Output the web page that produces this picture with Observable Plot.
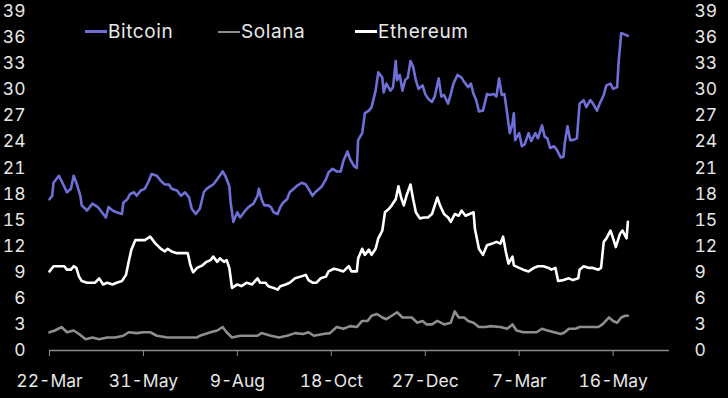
<!DOCTYPE html>
<html>
<head>
<meta charset="utf-8">
<script src="https://cdn.jsdelivr.net/npm/d3@7"></script>
<script src="https://cdn.jsdelivr.net/npm/@observablehq/plot@0.6"></script>
<style>
  html, body { margin: 0; padding: 0; background: #000; }
  #wrap { position: relative; width: 728px; height: 398px; overflow: hidden; font-family: Inter, "DejaVu Sans", sans-serif; }
  .leg { position: absolute; top: 20px; display: flex; align-items: center; color: #e8e8e8; font-size: 19px; letter-spacing: 0.6px; }
  .leg span.sw { display: inline-block; width: 22px; height: 3px; margin-right: 1px; }
</style>
</head>
<body>
<div id="wrap"></div>
<script>
// Series names & colors
const seriesNames = ["Bitcoin", "Solana", "Ethereum"];
const seriesColors = ["#6f6fd8", "#8e8e8e", "#ffffff"];

// X-axis ticks
const tickDates = ["2024-03-22", "2024-05-31", "2024-08-09", "2024-10-18", "2024-12-27", "2025-03-07", "2025-05-16"];
const tickLabels = ["22-Mar", "31-May", "9-Aug", "18-Oct", "27-Dec", "7-Mar", "16-May"];
const yTicks = [0, 3, 6, 9, 12, 15, 18, 21, 24, 27, 30, 33, 36, 39];
const startDate = "2024-03-22";
const endDate = "2025-06-27";

// Bitcoin: days since 22-Mar-2024, values
const btcDays = [0,2,3,7,9,13,16,18,20,23,24,28,32,36,39,42,44,47,50,54,55,58,60,63,65,68,71,74,76,80,83,86,89,91,95,98,101,104,106,109,112,115,117,120,122,125,129,131,134,135,137,140,142,145,147,150,152,155,156,158,160,163,165,167,170,172,174,177,179,182,184,188,191,193,196,198,201,203,206,208,211,214,217,219,222,224,227,229,230,233,235,238,240,243,245,248,249,251,254,256,258,259,261,263,265,267,269,271,273,275,278,280,282,285,287,290,292,294,297,299,301,304,307,309,312,314,316,318,320,323,326,328,331,333,335,337,339,341,343,345,346,347,350,352,354,357,359,362,364,367,369,371,373,376,378,381,383,384,386,388,390,393,395,398,400,403,405,408,410,413,415,418,420,423,424,426,428,431];
const btcVals = [17.4,17.8,19.3,20.1,19.5,18.2,18.6,20.1,19.3,17.8,16.7,16.1,16.9,16.5,15.9,15.3,16.5,16.1,15.9,15.7,17.0,17.4,18.0,18.2,17.8,18.4,18.6,19.5,20.3,20.1,19.5,19.1,19.1,18.6,18.4,17.8,18.2,17.6,16.3,15.7,16.3,18.2,18.6,18.9,19.1,19.7,20.6,20.1,18.9,17.0,14.8,15.9,15.3,15.9,16.3,16.7,16.9,17.8,18.6,17.4,16.7,16.7,16.5,15.9,15.7,16.5,17.0,17.4,18.2,18.6,18.9,19.3,19.1,18.6,17.8,18.2,18.6,18.9,19.7,20.5,20.9,20.6,20.6,21.8,22.9,22.0,21.2,21.0,24.2,25.0,27.3,27.6,28.0,29.9,32.0,31.4,29.7,30.7,29.9,30.3,33.3,31.1,31.7,29.9,31.1,31.4,33.3,32.6,31.1,30.1,30.5,29.5,29.0,28.6,29.2,31.3,29.2,29.4,28.4,29.5,30.7,31.7,31.4,30.9,30.3,30.7,29.5,28.8,27.5,27.6,29.5,29.4,29.5,29.2,31.3,29.4,29.5,27.3,25.0,26.1,27.3,24.2,25.0,23.5,23.7,25.0,24.1,25.0,24.4,25.9,24.6,24.4,23.3,23.5,23.1,22.2,22.3,23.9,25.8,24.2,24.2,24.4,28.4,28.8,28.0,28.8,28.4,27.6,28.4,29.4,30.5,30.7,30.1,30.3,33.0,36.5,36.4,36.2];

// Solana
const solDays = [0,4,9,13,18,22,27,32,37,43,49,55,59,65,70,75,80,88,95,103,110,112,120,125,129,132,136,142,148,155,158,165,171,177,183,189,193,197,204,209,214,219,224,229,233,237,240,244,248,251,255,259,263,266,270,274,278,281,285,289,294,299,302,305,309,312,316,320,325,328,336,341,345,348,353,358,363,367,371,376,381,384,387,392,395,403,409,412,417,420,423,426,429,431];
const solVals = [2.1,2.3,2.7,2.1,2.3,1.9,1.3,1.5,1.3,1.5,1.5,1.7,2.1,2.0,2.1,2.1,1.7,1.5,1.5,1.5,1.5,1.7,2.1,2.3,2.7,2.1,1.5,1.7,1.7,1.7,2.0,1.7,1.5,1.7,2.0,1.9,2.1,1.7,1.9,2.0,2.7,2.5,2.8,2.7,3.4,3.4,4.0,4.2,3.8,3.6,4.0,4.4,3.8,3.8,3.8,3.2,3.4,3.0,3.0,3.4,3.0,3.2,4.5,3.8,3.8,3.4,3.2,2.7,2.7,2.8,2.7,2.5,3.0,2.3,2.1,2.1,2.1,2.5,2.3,2.1,1.9,2.1,2.5,2.5,2.7,2.7,2.7,3.0,3.8,3.4,3.2,3.8,4.0,4.0];

// Ethereum
const ethDays = [0,3,7,11,13,16,18,20,22,24,28,32,34,37,40,43,47,50,54,57,59,61,64,68,71,75,79,83,86,88,91,95,99,103,105,107,110,114,117,120,122,125,127,130,132,134,136,140,143,147,151,155,157,161,163,167,170,172,176,179,183,187,191,193,196,199,202,206,208,212,215,219,223,225,229,230,233,235,238,240,243,245,248,250,253,255,258,260,262,264,266,269,271,273,276,279,282,285,289,291,294,297,299,302,305,307,310,313,316,317,320,323,326,330,333,336,338,340,342,345,346,350,353,357,361,364,368,372,374,377,379,383,387,390,394,395,398,402,405,409,411,413,415,418,420,422,425,427,430,431];
const ethVals = [9.1,9.7,9.7,9.7,9.3,9.3,9.7,9.5,8.5,8.0,7.8,7.8,7.8,8.3,7.6,7.8,7.6,7.8,8.0,8.7,10.2,11.6,12.7,12.7,12.7,13.1,12.3,11.7,11.4,11.7,11.4,11.2,11.2,11.2,9.8,9.0,9.5,9.8,10.2,10.4,10.8,10.2,10.6,10.2,10.4,9.5,7.2,7.6,7.4,7.8,7.6,8.3,7.8,7.8,7.4,7.2,7.0,7.4,7.6,7.8,8.3,8.5,8.7,8.1,7.8,7.8,8.3,8.5,9.1,9.4,9.3,9.1,9.7,9.1,9.1,10.6,11.7,11.0,11.6,11.0,11.7,12.9,13.8,15.9,16.3,16.7,17.4,18.9,17.6,16.7,17.8,19.1,17.4,15.9,15.2,15.3,15.3,15.7,17.6,16.7,15.7,15.3,14.8,15.7,15.5,16.1,15.5,15.7,15.9,14.0,11.7,11.0,12.1,12.3,12.5,12.3,13.1,11.4,10.0,10.8,9.8,9.5,9.3,9.1,9.5,9.7,9.7,9.5,9.3,9.5,8.0,8.1,8.3,8.1,8.3,9.3,9.7,9.5,9.5,9.3,9.5,12.5,12.9,13.8,12.9,11.9,13.4,13.8,12.9,14.8];

const start = new Date(startDate + "T00:00:00Z");
const end = new Date(endDate + "T00:00:00Z");
const toRows = (days, vals, name) => days.map((d, i) => ({date: d3.utcDay.offset(start, d), value: vals[i], series: name}));
const rows = [
  ...toRows(btcDays, btcVals, seriesNames[0]),
  ...toRows(solDays, solVals, seriesNames[1]),
  ...toRows(ethDays, ethVals, seriesNames[2])
];
const ticks = tickDates.map(s => new Date(s + "T00:00:00Z"));
const labelFor = d => tickLabels[ticks.findIndex(t => +t === +d)];

const chart = Plot.plot({
  width: 728,
  height: 398,
  marginTop: 11,
  marginBottom: 48,
  marginLeft: 49,
  marginRight: 59,
  style: {background: "#000", color: "#e6e6e6", fontFamily: "Inter, 'DejaVu Sans', sans-serif", fontSize: "17.5px"},
  x: {type: "utc", domain: [start, end]},
  y: {domain: [0, 39]},
  color: {domain: seriesNames, range: seriesColors},
  marks: [
    Plot.axisY({anchor: "left", ticks: yTicks, tickSize: 0, tickPadding: 24, label: null, tickFormat: d => String(d)}),
    Plot.axisY({anchor: "right", ticks: yTicks, tickSize: 0, tickPadding: 25, label: null, tickFormat: d => String(d)}),
    Plot.ruleY([0], {stroke: "#8a8a8a", strokeWidth: 1.5}),
    Plot.axisX({ticks: ticks, tickSize: 6, stroke: "#8a8a8a", tickFormat: () => "", label: null}),
    Plot.axisX({ticks: ticks, tickSize: 0, tickPadding: 24, tickFormat: labelFor, label: null}),
    Plot.line(rows, {x: "date", y: "value", z: "series", stroke: "series", strokeWidth: 2.6})
  ]
});
const wrap = document.getElementById("wrap");
wrap.appendChild(chart);

// Legend overlay
const legendLeft = [85, 218, 355];
seriesNames.forEach((name, i) => {
  const item = document.createElement("div");
  item.className = "leg";
  item.style.left = legendLeft[i] + "px";
  const sw = document.createElement("span");
  sw.className = "sw";
  sw.style.background = seriesColors[i];
  if (i === 1) sw.style.height = "2px";
  item.appendChild(sw);
  const t = document.createElement("span");
  t.textContent = name;
  item.appendChild(t);
  wrap.appendChild(item);
});
</script>
</body>
</html>
